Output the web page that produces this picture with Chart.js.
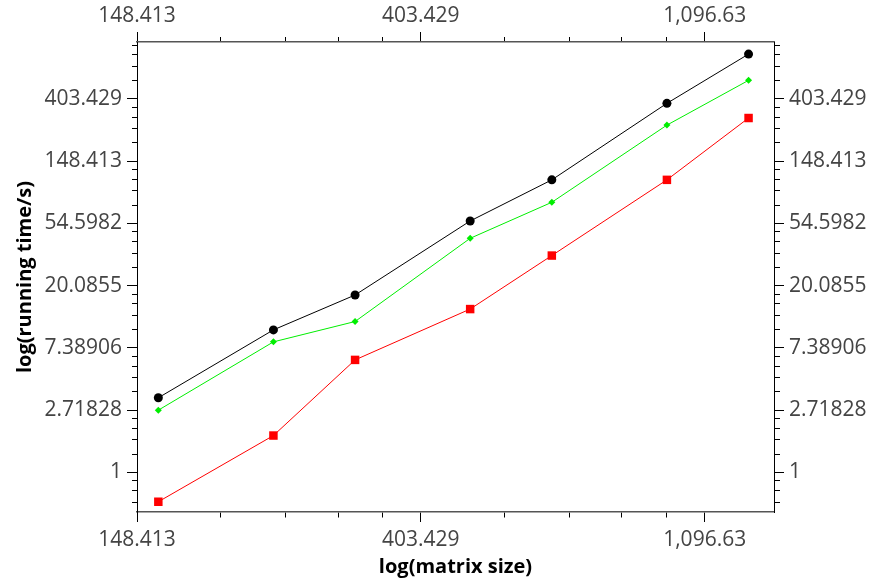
<!DOCTYPE html>
<html><head><meta charset="utf-8">
<script src="https://cdn.jsdelivr.net/npm/chart.js@4"></script>
<style>html,body{margin:0;padding:0;background:#fff;} #wrap{width:884px;height:581px;}</style>
</head><body><div id="wrap"><canvas id="c" width="884" height="581"></canvas></div>
<script>
const matrixSizes = [160, 240, 320, 480, 640, 960, 1280];
const seriesBlack = [3.32, 9.88, 17.3, 56.8, 110, 376, 829];
const seriesGreen = [2.72, 8.15, 11.3, 43.0, 76.7, 265, 544];
const seriesRed   = [0.625, 1.81, 6.10, 13.8, 32.6, 110, 297];
const xTickValues = [54.5982, 148.413, 403.429, 1096.63, 2980.96];
const yTickValues = [0.367879, 1, 2.71828, 7.38906, 20.0855, 54.5982, 148.413, 403.429, 1096.63];
const xRange = [148.413, 1400];
const yRange = [0.53, 1007];

function fmt(v) {
  return Number(v.toPrecision(6)).toLocaleString('en-US', {maximumSignificantDigits: 6});
}
function buildTicks(values, min, max) {
  const out = [];
  for (let i = 0; i < values.length; i++) {
    const v = values[i];
    if (v >= min * 0.9999 && v <= max * 1.0001) out.push({value: v, label: fmt(v)});
    if (i < values.length - 1) {
      const b = values[i + 1];
      for (let k = 1; k < 5; k++) {
        const m = v + (b - v) * k / 5;
        if (m >= min && m <= max) out.push({value: m, isMinor: true, label: ''});
      }
    }
  }
  out.sort((a, b) => a.value - b.value);
  return out;
}
const FONT = "'Open Sans', sans-serif";
function axis(pos, values, range, pad, size, extra) {
  const horiz = (pos === 'top' || pos === 'bottom');
  const dash = (pos === 'top' || pos === 'left') ? [0, 5, 5, 0] : [5, 5];
  return Object.assign({
    type: 'logarithmic',
    position: pos,
    min: range[0], max: range[1],
    afterBuildTicks: (scale) => { scale.ticks = buildTicks(values, scale.min, scale.max); },
    afterFit: (scale) => { if (horiz) scale.height = size; else scale.width = size; },
    ticks: {
      autoSkip: false, maxRotation: 0, minRotation: 0,
      padding: pad, color: '#444',
      font: {family: FONT, size: 21},
      callback: (val, idx, ticks) => ticks[idx].label || ''
    },
    grid: {
      drawOnChartArea: false, drawTicks: true, tickLength: 10, tickWidth: 1,
      tickColor: '#000',
      tickBorderDash: (ctx) => (ctx.tick && ctx.tick.isMinor) ? dash : []
    },
    border: {display: true, color: horiz ? '#555' : '#000', width: horiz ? 1.5 : 1}
  }, extra || {});
}

const toXY = (ys) => matrixSizes.map((x, i) => ({x: x, y: ys[i]}));

new Chart(document.getElementById('c'), {
  type: 'line',
  data: {
    datasets: [
      {label: 'red', data: toXY(seriesRed), borderColor: '#ff0000', backgroundColor: '#ff0000',
       borderWidth: 1, pointStyle: 'rect', pointRadius: 6, pointBorderWidth: 0, xAxisID: 'x', yAxisID: 'y'},
      {label: 'green', data: toXY(seriesGreen), borderColor: '#00ee00', backgroundColor: '#00ee00',
       borderWidth: 1, pointStyle: 'rectRot', pointRadius: 3.5, pointBorderWidth: 0, xAxisID: 'x', yAxisID: 'y'},
      {label: 'black', data: toXY(seriesBlack), borderColor: '#000', backgroundColor: '#000',
       borderWidth: 1, pointStyle: 'circle', pointRadius: 4.5, pointBorderWidth: 0, xAxisID: 'x', yAxisID: 'y'}
    ]
  },
  options: {
    responsive: false, animation: false,
    layout: {padding: 0},
    plugins: {legend: {display: false}, tooltip: {enabled: false}},
    scales: {
      x: axis('bottom', xTickValues, xRange, 5, 69, {
        title: {display: true, text: 'log(matrix size)', color: '#000',
                font: {family: FONT, size: 20, weight: 'bold'}, padding: {top: 0, bottom: 2}}
      }),
      x2: axis('top', xTickValues, xRange, 3, 42),
      y: axis('left', yTickValues, yRange, 5, 137, {
        title: {display: true, text: 'log(running time/s)', color: '#000',
                font: {family: FONT, size: 20, weight: 'bold'}, padding: {top: 13, bottom: 0}}
      }),
      y2: axis('right', yTickValues, yRange, 5, 110)
    }
  }
});
</script>
</body></html>
